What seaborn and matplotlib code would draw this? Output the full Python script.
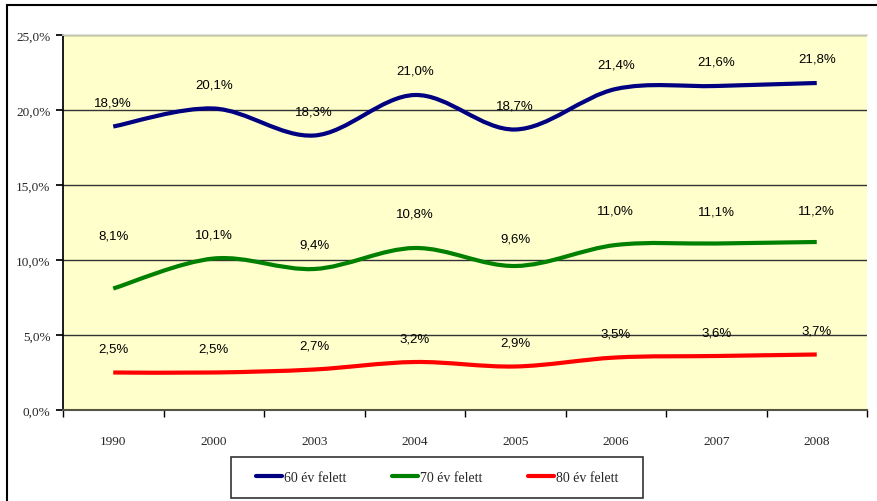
import numpy as np
import pandas as pd
import matplotlib
matplotlib.use("Agg")
import matplotlib.pyplot as plt
import seaborn as sns
from matplotlib.path import Path
from matplotlib.patches import PathPatch, Rectangle
from matplotlib.lines import Line2D
from matplotlib.ticker import FuncFormatter, MultipleLocator

# data
years = ["1990", "2000", "2003", "2004", "2005", "2006", "2007", "2008"]
over60 = [18.9, 20.1, 18.3, 21.0, 18.7, 21.4, 21.6, 21.8]
over70 = [8.1, 10.1, 9.4, 10.8, 9.6, 11.0, 11.1, 11.2]
over80 = [2.5, 2.5, 2.7, 3.2, 2.9, 3.5, 3.6, 3.7]
series_names = ["60 év felett", "70 év felett", "80 év felett"]
colors = ["#000080", "#008000", "#FF0000"]

# label distance above the point, in pixels (some 70+ labels were moved up by hand)
label_gap = [
    [24] * 8,
    [53, 24, 24, 34, 27, 34, 32, 31],
    [24] * 8,
]


def smooth_path(xs, ys):
    # Excel-style smoothed line: cubic Bezier segments (Catmull-Rom control points)
    pts = list(zip(xs, ys))
    n = len(pts)
    verts = [pts[0]]
    codes = [Path.MOVETO]
    for i in range(n - 1):
        p0 = pts[i - 1] if i > 0 else pts[i]
        p1 = pts[i]
        p2 = pts[i + 1]
        p3 = pts[i + 2] if i + 2 < n else pts[i + 1]
        c1 = (p1[0] + (p2[0] - p0[0]) / 6, p1[1] + (p2[1] - p0[1]) / 6)
        c2 = (p2[0] - (p3[0] - p1[0]) / 6, p2[1] - (p3[1] - p1[1]) / 6)
        verts += [c1, c2, p2]
        codes += [Path.CURVE4] * 3
    return Path(verts, codes)


df = pd.DataFrame({
    "idx": list(range(len(years))) * 3,
    "val": over60 + over70 + over80,
    "series": [s for s in series_names for _ in years],
})

sns.set_theme(style="white")
fig = plt.figure(figsize=(8.77, 5.02), dpi=100)
ax = fig.add_axes([63 / 877, 1 - 411 / 502, (867 - 63) / 877, (411 - 36) / 502])
ax.set_facecolor("#FFFFCC")

# seaborn sets up the scales, the smooth curves are drawn as paths on top
sns.lineplot(data=df, x="idx", y="val", hue="series", palette=colors,
             linewidth=0, legend=False, ax=ax)

for vals, col, gaps in zip([over60, over70, over80], colors, label_gap):
    xs = list(range(len(years)))
    ax.add_patch(PathPatch(smooth_path(xs, vals), fill=False, edgecolor=col,
                           linewidth=3, capstyle="butt", joinstyle="round", zorder=3))
    for x, v, g in zip(xs, vals, gaps):
        ax.annotate(f"{v:.1f}%".replace(".", ","), (x, v), xytext=(0, g * 0.72),
                    textcoords="offset points", ha="center", va="center",
                    fontsize=9.5, family="Liberation Sans", color="black")

ax.set_xlim(-0.5, len(years) - 0.5)
ax.set_ylim(0, 25)
ax.yaxis.set_major_locator(MultipleLocator(5))
ax.yaxis.set_major_formatter(FuncFormatter(lambda v, p: f"{v:.1f}%".replace(".", ",")))
ax.set_xticks(range(len(years)))
ax.set_xticklabels(years)
ax.set_xticks(np.arange(-0.5, len(years), 1), minor=True)
ax.tick_params(axis="x", which="major", length=0, pad=18, labelsize=9.5)
ax.tick_params(axis="x", which="minor", length=5, color="black", direction="out", bottom=True)
ax.tick_params(axis="y", length=5, color="black", direction="out", left=True, labelsize=9.5, pad=4)
for lab in ax.get_xticklabels() + ax.get_yticklabels():
    lab.set_family("Liberation Serif")
ax.set_xlabel("")
ax.set_ylabel("")

ax.yaxis.grid(True, color="#333333", linewidth=1)
ax.set_axisbelow(True)
ax.spines["left"].set_color("black")
ax.spines["bottom"].set_color("#555544")
ax.spines["bottom"].set_linewidth(1.5)
ax.spines["top"].set_color("#DDDDCC")
ax.spines["right"].set_visible(False)

# outer chart frame (only left/top visible in the crop)
fig.patches.append(Rectangle((7 / 877, -0.1), 1.2, 1 - 6 / 502 + 0.1, transform=fig.transFigure,
                             fill=False, edgecolor="black", linewidth=1.5))

# legend box drawn separately so its padding matches
fig.patches.append(Rectangle((231 / 877, 1 - 499 / 502), 412 / 877, 41 / 502,
                             transform=fig.transFigure, fill=False,
                             edgecolor="#333333", linewidth=1.2))
handles = [Line2D([], [], color=c, linewidth=3) for c in colors]
leg = fig.legend(handles, series_names, loc="center", bbox_to_anchor=(437 / 877, 1 - 478.5 / 502),
                 ncol=3, frameon=False,
                 prop={"family": "Liberation Serif", "size": 10},
                 handlelength=1.9, handletextpad=0.1, columnspacing=3.3,
                 borderpad=0.5)

fig.savefig("out.png", dpi=100)
